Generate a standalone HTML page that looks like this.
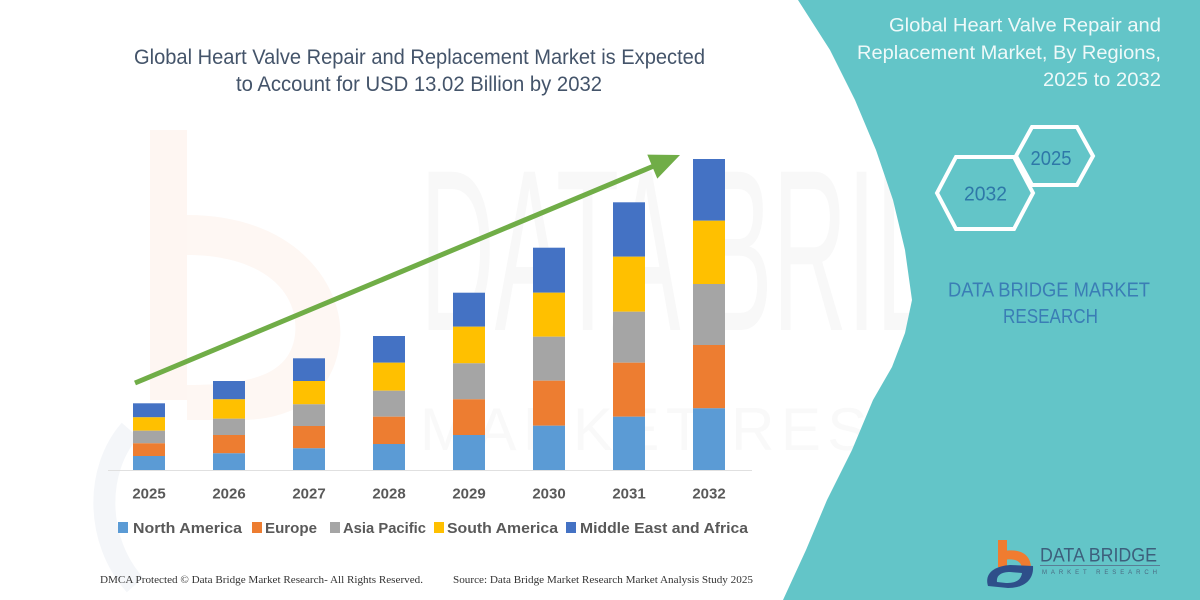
<!DOCTYPE html>
<html>
<head>
<meta charset="utf-8">
<style>
  html,body{margin:0;padding:0;background:#fff;}
  svg{display:block;}
  text{font-family:"Liberation Sans", sans-serif;}
  .serif{font-family:"Liberation Serif", serif;}
</style>
</head>
<body>
<svg width="1200" height="600" viewBox="0 0 1200 600" xmlns="http://www.w3.org/2000/svg">
  <rect x="0" y="0" width="1200" height="600" fill="#ffffff"/>

  <!-- faint watermark shapes -->
  <rect x="150" y="130" width="37" height="270" fill="#fef6f2"/>
  <path d="M187,215 C300,215 345,290 340,340 C335,390 300,420 240,420 L187,420 L187,385 C250,385 290,375 295,335 C300,290 260,255 187,255 Z" fill="#fef7f3"/>
  <path d="M130,430 C95,470 95,540 135,585" fill="none" stroke="#f4f6f9" stroke-width="22"/>
  <text x="420" y="330" font-size="230" textLength="680" lengthAdjust="spacingAndGlyphs" fill="#f8f8f8">DATA BRIDGE</text>
  <text x="420" y="450" font-size="60" textLength="690" lengthAdjust="spacing" fill="#f9f9f9">MARKET RESEARCH</text>

  <!-- teal panel -->
  <path d="M798,0 L830,50 L855,100 L876,150 L893,200 L905,250 L912,300 L905,333 L892,367 L873,400 L852,450 L827,500 L806,550 L783,600 L1200,600 L1200,0 Z" fill="#63c5c8"/>

  <!-- main title -->
  <text x="134" y="64" font-size="21" fill="#44546a" textLength="571" lengthAdjust="spacingAndGlyphs">Global Heart Valve Repair and Replacement Market is Expected</text>
  <text x="236" y="91" font-size="21" fill="#44546a" textLength="366" lengthAdjust="spacingAndGlyphs">to Account for USD 13.02 Billion by 2032</text>

  <!-- baseline -->
  <line x1="108" y1="470.5" x2="752" y2="470.5" stroke="#e0e0e0" stroke-width="1"/>

  <!-- bars -->
  <g>
    <rect x="133" y="403.3" width="32" height="14" fill="#4472c4"/>
    <rect x="133" y="417.3" width="32" height="13.4" fill="#ffc000"/>
    <rect x="133" y="430.7" width="32" height="12.6" fill="#a5a5a5"/>
    <rect x="133" y="443.3" width="32" height="12.7" fill="#ed7d31"/>
    <rect x="133" y="456" width="32" height="14" fill="#5b9bd5"/>

    <rect x="213" y="381" width="32" height="18.3" fill="#4472c4"/>
    <rect x="213" y="399.3" width="32" height="19.4" fill="#ffc000"/>
    <rect x="213" y="418.7" width="32" height="16.3" fill="#a5a5a5"/>
    <rect x="213" y="435" width="32" height="18.3" fill="#ed7d31"/>
    <rect x="213" y="453.3" width="32" height="16.7" fill="#5b9bd5"/>

    <rect x="293" y="358.3" width="32" height="22.7" fill="#4472c4"/>
    <rect x="293" y="381" width="32" height="23.3" fill="#ffc000"/>
    <rect x="293" y="404.3" width="32" height="21.7" fill="#a5a5a5"/>
    <rect x="293" y="426" width="32" height="22.3" fill="#ed7d31"/>
    <rect x="293" y="448.3" width="32" height="21.7" fill="#5b9bd5"/>

    <rect x="373" y="336" width="32" height="26.7" fill="#4472c4"/>
    <rect x="373" y="362.7" width="32" height="28" fill="#ffc000"/>
    <rect x="373" y="390.7" width="32" height="26" fill="#a5a5a5"/>
    <rect x="373" y="416.7" width="32" height="27.3" fill="#ed7d31"/>
    <rect x="373" y="444" width="32" height="26" fill="#5b9bd5"/>

    <rect x="453" y="292.7" width="32" height="34" fill="#4472c4"/>
    <rect x="453" y="326.7" width="32" height="36.6" fill="#ffc000"/>
    <rect x="453" y="363.3" width="32" height="36" fill="#a5a5a5"/>
    <rect x="453" y="399.3" width="32" height="35.7" fill="#ed7d31"/>
    <rect x="453" y="435" width="32" height="35" fill="#5b9bd5"/>

    <rect x="533" y="247.7" width="32" height="45" fill="#4472c4"/>
    <rect x="533" y="292.7" width="32" height="44" fill="#ffc000"/>
    <rect x="533" y="336.7" width="32" height="44" fill="#a5a5a5"/>
    <rect x="533" y="380.7" width="32" height="45" fill="#ed7d31"/>
    <rect x="533" y="425.7" width="32" height="44.3" fill="#5b9bd5"/>

    <rect x="613" y="202.3" width="32" height="54.4" fill="#4472c4"/>
    <rect x="613" y="256.7" width="32" height="55" fill="#ffc000"/>
    <rect x="613" y="311.7" width="32" height="51" fill="#a5a5a5"/>
    <rect x="613" y="362.7" width="32" height="54" fill="#ed7d31"/>
    <rect x="613" y="416.7" width="32" height="53.3" fill="#5b9bd5"/>

    <rect x="693" y="159" width="32" height="61.7" fill="#4472c4"/>
    <rect x="693" y="220.7" width="32" height="63.3" fill="#ffc000"/>
    <rect x="693" y="284" width="32" height="61" fill="#a5a5a5"/>
    <rect x="693" y="345" width="32" height="63.3" fill="#ed7d31"/>
    <rect x="693" y="408.3" width="32" height="61.7" fill="#5b9bd5"/>
  </g>

  <!-- arrow -->
  <line x1="135" y1="383" x2="655" y2="165.5" stroke="#70ad47" stroke-width="5"/>
  <polygon points="680,155 647.3,154.6 657.3,178.6" fill="#70ad47"/>

  <!-- year labels -->
  <g font-size="15" font-weight="bold" fill="#595959" text-anchor="middle">
    <text x="149" y="498.5">2025</text>
    <text x="229" y="498.5">2026</text>
    <text x="309" y="498.5">2027</text>
    <text x="389" y="498.5">2028</text>
    <text x="469" y="498.5">2029</text>
    <text x="549" y="498.5">2030</text>
    <text x="629" y="498.5">2031</text>
    <text x="709" y="498.5">2032</text>
  </g>

  <!-- legend -->
  <rect x="118" y="522" width="10" height="11" fill="#5b9bd5"/>
  <rect x="252" y="522" width="10" height="11" fill="#ed7d31"/>
  <rect x="330" y="522" width="10" height="11" fill="#a5a5a5"/>
  <rect x="434" y="522" width="10" height="11" fill="#ffc000"/>
  <rect x="566" y="522" width="10" height="11" fill="#4472c4"/>
  <g font-size="15" font-weight="bold" fill="#595959">
    <text x="133" y="533" textLength="109" lengthAdjust="spacingAndGlyphs">North America</text>
    <text x="265" y="533" textLength="52" lengthAdjust="spacingAndGlyphs">Europe</text>
    <text x="343" y="533" textLength="83" lengthAdjust="spacingAndGlyphs">Asia Pacific</text>
    <text x="447" y="533" textLength="111" lengthAdjust="spacingAndGlyphs">South America</text>
    <text x="580" y="533" textLength="168" lengthAdjust="spacingAndGlyphs">Middle East and Africa</text>
  </g>

  <!-- footer -->
  <text class="serif" x="100" y="583" font-size="10.5" fill="#333" textLength="323" lengthAdjust="spacingAndGlyphs">DMCA Protected © Data Bridge Market Research-  All Rights Reserved.</text>
  <text class="serif" x="453" y="583" font-size="10.5" fill="#333" textLength="300" lengthAdjust="spacingAndGlyphs">Source: Data Bridge Market Research  Market Analysis Study 2025</text>

  <!-- right title -->
  <g font-size="19" fill="#eef9f9" text-anchor="end">
    <text x="1161" y="31.5" textLength="272" lengthAdjust="spacingAndGlyphs">Global Heart Valve Repair and</text>
    <text x="1161" y="59" textLength="304" lengthAdjust="spacingAndGlyphs">Replacement Market, By Regions,</text>
    <text x="1161" y="86" textLength="118" lengthAdjust="spacingAndGlyphs">2025 to 2032</text>
  </g>

  <!-- hexagons -->
  <polygon points="1016,156 1032,127 1077,127 1093,156 1077,185 1032,185" fill="none" stroke="#ffffff" stroke-width="4"/>
  <polygon points="937,193 956,157 1014,157 1033,193 1014,229 956,229" fill="none" stroke="#ffffff" stroke-width="4"/>
  <text x="1030.5" y="165" font-size="20" fill="#2e78a8" textLength="41" lengthAdjust="spacingAndGlyphs">2025</text>
  <text x="964" y="200.5" font-size="20" fill="#2e78a8" textLength="43" lengthAdjust="spacingAndGlyphs">2032</text>

  <!-- DBMR text -->
  <text x="948" y="296.5" font-size="20" fill="#3a7db5" textLength="202" lengthAdjust="spacingAndGlyphs">DATA BRIDGE MARKET</text>
  <text x="1003" y="323" font-size="20" fill="#3a7db5" textLength="95" lengthAdjust="spacingAndGlyphs">RESEARCH</text>

  <!-- logo -->
  <rect x="998" y="540" width="9" height="27" fill="#f07c30"/>
  <path d="M1004,551 C1022,548 1031,556 1031,568 L1022,568 C1021,561 1015,558 1004,560 Z" fill="#f07c30"/>
  <path d="M988,586 C984,573 995,566 1010,565 L1033,566 C1034,580 1024,588 1008,588 Z" fill="#2e4f8a"/>
  <path d="M997,582 C996,575 1002,572 1010,572 L1022,573 C1021,580 1016,583 1006,583 Z" fill="#63c5c8"/>
  <text x="1040" y="561.5" font-size="19" fill="#3d5f7c" textLength="117" lengthAdjust="spacingAndGlyphs">DATA BRIDGE</text>
  <line x1="1040" y1="565.5" x2="1160" y2="565.5" stroke="#5a7d95" stroke-width="1"/>
  <text x="1042" y="574" font-size="6" fill="#4a6a82" textLength="115" lengthAdjust="spacing">MARKET RESEARCH</text>
</svg>
</body>
</html>
